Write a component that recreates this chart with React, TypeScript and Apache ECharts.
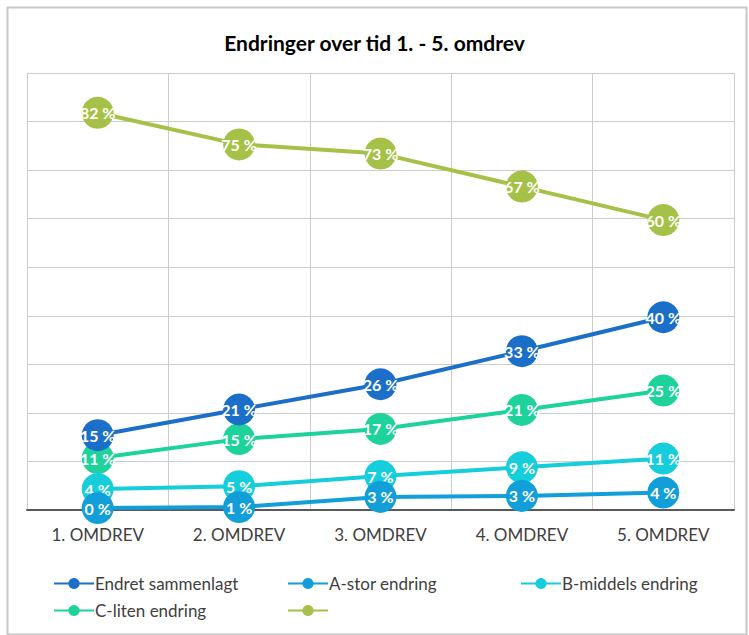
import React, { useEffect, useRef } from "react";
import * as echarts from "echarts";

const categories = ["1. OMDREV", "2. OMDREV", "3. OMDREV", "4. OMDREV", "5. OMDREV"];
const seriesNames = ["Endret sammenlagt", "A-stor endring", "B-middels endring", "C-liten endring", " "];
const endret = [15.4, 20.7, 25.9, 32.7, 39.7];
const aStor = [0.4, 0.6, 2.7, 2.9, 3.6];
const bMiddels = [4.3, 4.9, 7.0, 8.8, 10.6];
const cLiten = [10.7, 14.6, 16.7, 20.6, 24.6];
const total = [81.8, 75.3, 73.4, 66.6, 59.7];
const colors = ["#1c6fc8", "#129ed9", "#16cddb", "#1dd29b", "#a5c147"];

export default function App() {
  const ref = useRef<HTMLDivElement>(null);
  useEffect(() => {
    document.body.style.margin = "0";
    const chart = echarts.init(ref.current!, null, { renderer: "svg" });
    const font = "Lato, 'Open Sans', sans-serif";
    const allData = [endret, aStor, bMiddels, cLiten, total];
    const series = allData.map((d, i) => ({
      name: seriesNames[i],
      type: "line",
      data: d,
      symbol: "circle",
      symbolSize: 32,
      z: 10 - i,
      lineStyle: { width: 4, color: colors[i] },
      itemStyle: { color: colors[i] },
      label: {
        show: true,
        position: "inside",
        color: "#ffffff",
        fontWeight: "bold",
        fontSize: 16,
        fontFamily: font,
        formatter: (p: any) => Math.round(p.value) + " %",
      },
    }));
    const legendBase = {
      orient: "horizontal",
      itemWidth: 40,
      itemHeight: 14,
      itemGap: 20,
      textStyle: { fontSize: 17, color: "#404040", fontFamily: font, padding: [0, 0, 0, -4] },
      padding: 0,
    };
    chart.setOption({
      animation: false,
      color: colors,
      title: {
        text: "Endringer over tid 1. - 5. omdrev",
        left: "center",
        top: 27,
        textStyle: { fontSize: 21, fontWeight: "bold", color: "#000000", fontFamily: font },
      },
      legend: [
        { ...legendBase, left: 53, top: 575, data: [seriesNames[0]] },
        { ...legendBase, left: 287, top: 575, data: [seriesNames[1]] },
        { ...legendBase, left: 520, top: 575, data: [seriesNames[2]] },
        { ...legendBase, left: 53, top: 602, data: [seriesNames[3]] },
        { ...legendBase, left: 287, top: 602, data: [seriesNames[4]] },
      ],
      grid: { left: 27, right: 15, top: 73, bottom: 125 },
      xAxis: {
        type: "category",
        data: categories,
        boundaryGap: true,
        axisTick: { show: false },
        axisLine: { show: true, lineStyle: { color: "#595959", width: 2 } },
        axisLabel: { fontSize: 17, color: "#404040", fontFamily: font, margin: 16 },
        splitLine: { show: true, lineStyle: { color: "#cccccc", width: 1 } },
      },
      yAxis: {
        type: "value",
        min: 0,
        max: 90,
        interval: 10,
        axisLabel: { show: false },
        axisLine: { show: false },
        axisTick: { show: false },
        splitLine: { show: true, lineStyle: { color: "#cccccc", width: 1 } },
      },
      graphic: [
        {
          type: "rect",
          left: 5,
          top: 5,
          shape: { x: 0, y: 0, width: 739, height: 627 },
          style: { fill: "none", stroke: "#c8c8c8", lineWidth: 2 },
          silent: true,
        },
      ],
      series,
    });
    return () => chart.dispose();
  }, []);
  return <div ref={ref} style={{ width: 749, height: 635 }} />;
}
